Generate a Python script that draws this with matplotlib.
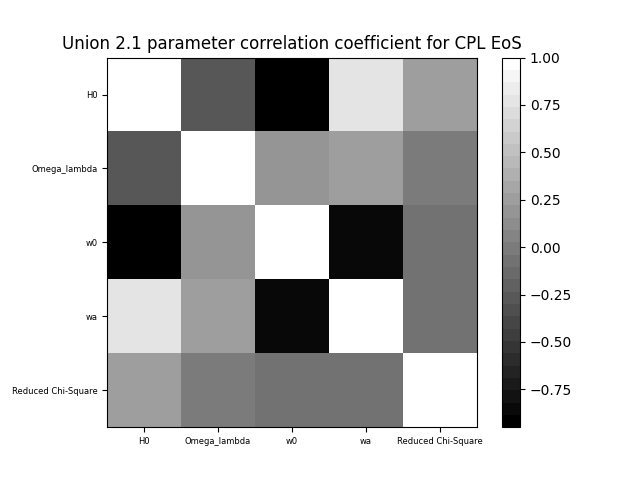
import numpy as np
import matplotlib.pyplot as plt

# parameter names
params = ['H0', 'Omega_lambda', 'w0', 'wa', 'Reduced Chi-Square']

# correlation coefficients
row_h0 = [1.00, -0.27, -0.95, 0.77, 0.25]
row_ol = [-0.27, 1.00, 0.19, 0.25, 0.00]
row_w0 = [-0.95, 0.19, 1.00, -0.85, -0.07]
row_wa = [0.77, 0.25, -0.85, 1.00, -0.07]
row_chi = [0.25, 0.00, -0.07, -0.07, 1.00]

corr = np.array([row_h0, row_ol, row_w0, row_wa, row_chi])

fig = plt.figure(figsize=(6.4, 4.8), dpi=100)
plt.imshow(corr, cmap=plt.get_cmap('gray', 30), interpolation='nearest')
plt.colorbar()
plt.xticks(range(len(params)), params, fontsize=6)
plt.yticks(range(len(params)), params, fontsize=6)
plt.title('Union 2.1 parameter correlation coefficient for CPL EoS')
plt.savefig('out.png')
